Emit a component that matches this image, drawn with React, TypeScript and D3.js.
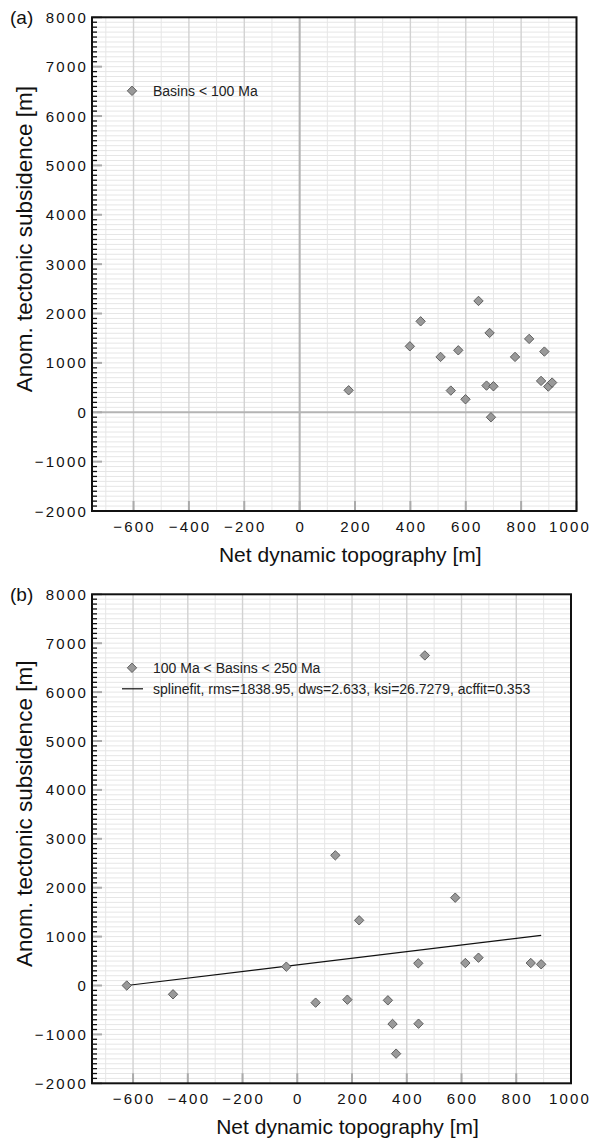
import React from "react";
import * as d3 from "d3";

// Panel (a): Basins < 100 Ma
const aX = [177, 398, 437, 509, 573, 546, 599, 646, 686, 675, 700, 691, 778, 829, 884, 872, 898, 912];
const aY = [445, 1336, 1842, 1121, 1255, 439, 263, 2255, 1607, 540, 526, -101, 1121, 1486, 1229, 635, 520, 601];

// Panel (b): 100 Ma < Basins < 250 Ma
const bX = [-623, -454, -40, 67, 183, 226, 139, 331, 348, 361, 442, 443, 466, 577, 614, 662, 853, 891];
const bY = [0, -180, 385, -351, -290, 1333, 2662, -303, -787, -1394, 454, -781, 6750, 1796, 460, 569, 460, 434];

// Spline fit line (panel b)
const fitX = [-623, 891];
const fitY = [0, 1025];

const xTicks = [-600, -400, -200, 0, 200, 400, 600, 800, 1000];
const yTicks = [-2000, -1000, 0, 1000, 2000, 3000, 4000, 5000, 6000, 7000, 8000];

const legendA = ["Basins < 100 Ma"];
const legendB = ["100 Ma < Basins < 250 Ma", "splinefit, rms=1838.95, dws=2.633, ksi=26.7279, acffit=0.353"];

const FONT = "'Liberation Sans', Arial, Helvetica, sans-serif";

function fmt(v: number) {
  return v < 0 ? "\u2212" + Math.abs(v) : String(v);
}

function Diamond({ cx, cy, r = 4.7 }: { cx: number; cy: number; r?: number }) {
  return (
    <path
      d={`M${cx},${cy - r}L${cx + r},${cy}L${cx},${cy + r}L${cx - r},${cy}Z`}
      fill="#999"
      stroke="#555"
      strokeWidth={0.9}
    />
  );
}

function Panel({
  left, right, top, bottom, label, xs, ys, zeroLines, legend, fit,
}: {
  left: number; right: number; top: number; bottom: number; label: string;
  xs: number[]; ys: number[]; zeroLines: boolean; legend: string[]; fit: boolean;
}) {
  const x = d3.scaleLinear().domain([-750, 1000]).range([left, right]);
  const y = d3.scaleLinear().domain([-2000, 8000]).range([bottom, top]);
  const vMinor = d3.range(-700, 1000, 100);
  const hMinor = d3.range(-1900, 8000, 100);
  const line = d3.line<number>().x((_, i) => x(fitX[i])).y((_, i) => y(fitY[i]));
  const cxPlot = (left + right) / 2;
  const cyPlot = (top + bottom) / 2;
  return (
    <g>
      {hMinor.map((v) => (
        <line key={"h" + v} x1={left} x2={right} y1={y(v)} y2={y(v)} stroke="#e6e6e6" strokeWidth={1} />
      ))}
      {vMinor.map((v) => (
        <line key={"v" + v} x1={x(v)} x2={x(v)} y1={top} y2={bottom}
          stroke={v % 200 === 0 ? "#d2d2d2" : "#e6e6e6"} strokeWidth={v % 200 === 0 ? 1.4 : 1} />
      ))}
      {zeroLines && (
        <g>
          <line x1={left} x2={right} y1={y(0)} y2={y(0)} stroke="#b4b4b4" strokeWidth={2} />
          <line x1={x(0)} x2={x(0)} y1={top} y2={bottom} stroke="#b4b4b4" strokeWidth={2} />
        </g>
      )}
      {hMinor.filter((v) => v % 1000 !== 0).map((v) => (
        <line key={"lt" + v} x1={left} x2={left + 5} y1={y(v)} y2={y(v)} stroke="#111" strokeWidth={1.3} />
      ))}
      {yTicks.map((v) => (
        <line key={"lm" + v} x1={left} x2={left + 10} y1={y(v)} y2={y(v)} stroke="#aaa" strokeWidth={2} />
      ))}
      {xTicks.map((v) => (
        <line key={"bm" + v} x1={x(v)} x2={x(v)} y1={bottom} y2={bottom - 10} stroke="#aaa" strokeWidth={2} />
      ))}
      {fit && <path d={line(fitX) || ""} fill="none" stroke="#111" strokeWidth={1.2} />}
      {xs.map((v, i) => (
        <Diamond key={"p" + i} cx={x(v)} cy={y(ys[i])} />
      ))}
      <Diamond cx={left + 40} cy={top + 73.5} />
      <text x={left + 61} y={top + 78.5} fontFamily={FONT} fontSize={14} fill="#222">{legend[0]}</text>
      {fit && (
        <g>
          <line x1={left + 30} x2={left + 51} y1={top + 94.5} y2={top + 94.5} stroke="#111" strokeWidth={1.2} />
          <text x={left + 61} y={top + 99.5} fontFamily={FONT} fontSize={14} fill="#222">{legend[1]}</text>
        </g>
      )}
      <rect x={left} y={top} width={right - left} height={bottom - top} fill="none" stroke="#111" strokeWidth={2} />
      {yTicks.map((v) => (
        <text key={"yl" + v} x={left - 4} y={y(v) + 5.5} textAnchor="end" fontFamily={FONT}
          fontSize={15} letterSpacing={2.2} fill="#111">{fmt(v)}</text>
      ))}
      {xTicks.map((v) => (
        <text key={"xl" + v} x={Math.min(x(v) + 1.1, 570)} y={bottom + 21} textAnchor="middle" fontFamily={FONT}
          fontSize={15} letterSpacing={2.2} fill="#111">{fmt(v)}</text>
      ))}
      <text x={cxPlot + 16} y={bottom + 51} textAnchor="middle" fontFamily={FONT} fontSize={21} fill="#111">
        Net dynamic topography [m]
      </text>
      <text transform={`translate(32,${cyPlot - 25}) rotate(-90)`} textAnchor="middle" fontFamily={FONT}
        fontSize={22.5} fill="#111">
        Anom. tectonic subsidence [m]
      </text>
      <text x={10} y={top + 7} fontFamily={FONT} fontSize={19} fill="#111">{label}</text>
    </g>
  );
}

export default function App() {
  return (
    <svg width={597} height={1140} style={{ position: "absolute", left: 0, top: 0, background: "#fff" }}>
      <rect width={597} height={1140} fill="#fff" />
      <Panel left={92} right={576.5} top={17.3} bottom={511} label="(a)" xs={aX} ys={aY}
        zeroLines={true} legend={legendA} fit={false} />
      <Panel left={92} right={571} top={594.3} bottom={1083.3} label="(b)" xs={bX} ys={bY}
        zeroLines={false} legend={legendB} fit={true} />
    </svg>
  );
}
